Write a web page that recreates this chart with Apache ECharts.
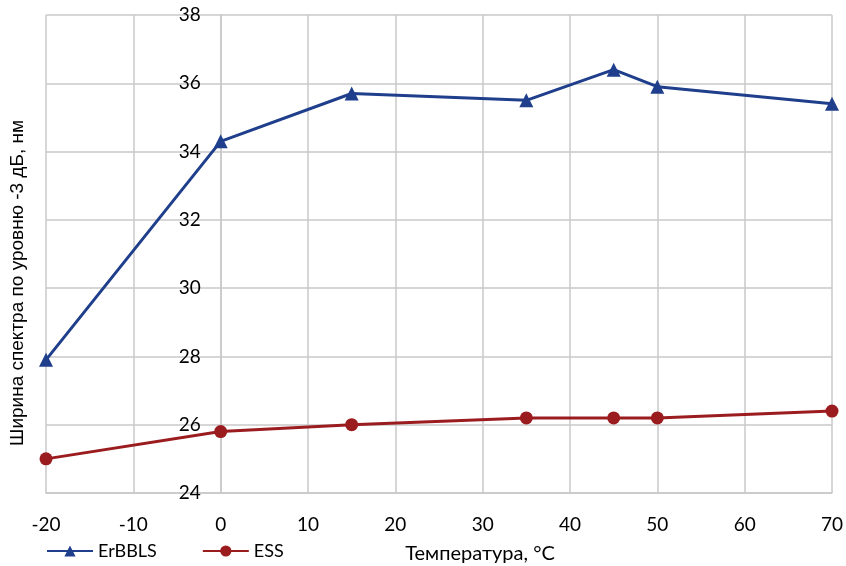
<!DOCTYPE html>
<html>
<head>
<meta charset="utf-8">
<script src="https://cdn.jsdelivr.net/npm/echarts@6/dist/echarts.min.js"></script>
<style>
  html, body { margin: 0; padding: 0; background: #fff; }
  #chart { width: 846px; height: 566px; }
</style>
</head>
<body>
<div id="chart"></div>
<script>
// температура, °C
const temps = [-20, 0, 15, 35, 45, 50, 70];
// ширина спектра, нм
const erbbls = [27.9, 34.3, 35.7, 35.5, 36.4, 35.9, 35.4];
const ess = [25.0, 25.8, 26.0, 26.2, 26.2, 26.2, 26.4];
const seriesNames = ['ErBBLS', 'ESS'];

const blue = '#1f3f8c';
const red = '#9b1c1f';
const gridColor = '#c8c8c8';

const gridLeft = 46, gridRight = 14;
const xMin = -20, xMax = 70;
// y axis sits at x = 0, inside the plot
const plotW = 846 - gridLeft - gridRight;
const yAxisShift = plotW * (0 - xMin) / (xMax - xMin);

const chart = echarts.init(document.getElementById('chart'));

const option = {
  animation: false,
  title: {
    text: 'Температура, °C',
    left: 475,
    top: 539,
    textAlign: 'center',
    textStyle: { fontFamily: 'Lato', fontSize: 20, fontWeight: 'normal', color: '#000' }
  },
  legend: {
    data: seriesNames,
    left: 41,
    top: 537,
    itemWidth: 46,
    itemHeight: 14,
    itemGap: 45,
    textStyle: { fontFamily: 'Lato', fontSize: 18, color: '#000' }
  },
  grid: { left: gridLeft, right: gridRight, top: 15, bottom: 73, containLabel: false, outerBoundsMode: 'none' },
  xAxis: {
    type: 'value',
    min: xMin,
    max: xMax,
    interval: 10,
    axisLine: { onZero: false, lineStyle: { color: gridColor, width: 1.5 } },
    axisTick: { show: false },
    splitLine: { show: true, lineStyle: { color: gridColor, width: 1.5 } },
    axisLabel: { margin: 22, fontFamily: 'Lato', fontSize: 19, color: '#000' }
  },
  yAxis: {
    type: 'value',
    min: 24,
    max: 38,
    interval: 2,
    position: 'left',
    offset: -yAxisShift,
    axisLine: { show: true, onZero: false, lineStyle: { color: gridColor, width: 1.5 } },
    axisTick: { show: false },
    splitLine: { show: true, lineStyle: { color: gridColor, width: 1.5 } },
    axisLabel: { margin: 20, fontFamily: 'Lato', fontSize: 19, color: '#000' }
  },
  graphic: [{
    type: 'text',
    left: 8,
    top: 'middle',
    rotation: Math.PI / 2,
    style: {
      text: 'Ширина спектра по уровню -3 дБ, нм',
      font: '19px "Liberation Sans"',
      fill: '#000'
    }
  }],
  series: [
    {
      name: seriesNames[0],
      type: 'line',
      data: temps.map((t, i) => [t, erbbls[i]]),
      symbol: 'triangle',
      symbolSize: 14,
      lineStyle: { color: blue, width: 3 },
      itemStyle: { color: blue }
    },
    {
      name: seriesNames[1],
      type: 'line',
      data: temps.map((t, i) => [t, ess[i]]),
      symbol: 'circle',
      symbolSize: 13,
      lineStyle: { color: red, width: 3 },
      itemStyle: { color: red }
    }
  ]
};

chart.setOption(option);
</script>
</body>
</html>
